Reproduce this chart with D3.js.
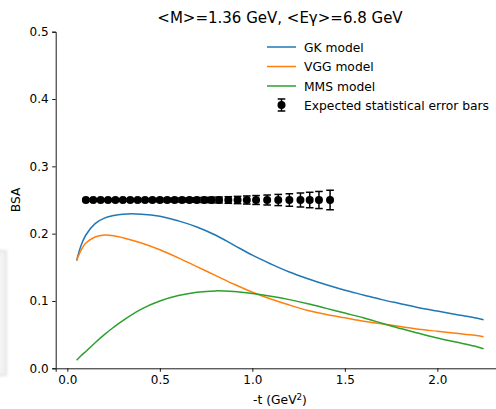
<!DOCTYPE html>
<html>
<head>
<meta charset="utf-8">
<script src="https://cdn.jsdelivr.net/npm/d3@7"></script>
<style>
  html, body { margin: 0; padding: 0; background: #fff; }
  svg { display: block; font-family: "DejaVu Sans", sans-serif; }
</style>
</head>
<body>
<svg id="chart" width="496" height="409"></svg>
<script>
// -t grid for the model curves (GeV^2)
const tGrid = [0.05, 0.075, 0.10, 0.15, 0.20, 0.25, 0.30, 0.40, 0.50, 0.60, 0.70, 0.80, 0.90, 1.00,
               1.10, 1.20, 1.30, 1.40, 1.50, 1.60, 1.70, 1.80, 1.90, 2.00, 2.10, 2.20, 2.25];
const gkModel  = [0.160, 0.183, 0.198, 0.215, 0.223, 0.227, 0.229, 0.229, 0.226, 0.219, 0.210, 0.198, 0.183, 0.168,
                  0.155, 0.143, 0.133, 0.124, 0.116, 0.109, 0.102, 0.096, 0.090, 0.085, 0.080, 0.075, 0.072];
const vggModel = [0.160, 0.176, 0.186, 0.195, 0.198, 0.197, 0.194, 0.186, 0.176, 0.164, 0.151, 0.138, 0.125, 0.113,
                  0.103, 0.094, 0.086, 0.080, 0.075, 0.070, 0.066, 0.062, 0.058, 0.055, 0.052, 0.049, 0.047];
const mmsModel = [0.012, 0.019, 0.025, 0.038, 0.050, 0.061, 0.071, 0.088, 0.100, 0.108, 0.113, 0.115, 0.114, 0.111,
                  0.107, 0.102, 0.096, 0.089, 0.082, 0.075, 0.067, 0.059, 0.052, 0.045, 0.039, 0.033, 0.029];

// Projected measurement points with expected statistical errors
const tPoints = [0.10, 0.14, 0.18, 0.22, 0.26, 0.30, 0.34, 0.38, 0.42, 0.46, 0.50, 0.54, 0.58, 0.62, 0.66,
                 0.70, 0.74, 0.78, 0.82, 0.87, 0.92, 0.97, 1.02, 1.08, 1.14, 1.20, 1.26, 1.31, 1.36, 1.42];
const bsaPoints = [0.25, 0.25, 0.25, 0.25, 0.25, 0.25, 0.25, 0.25, 0.25, 0.25, 0.25, 0.25, 0.25, 0.25, 0.25,
                   0.25, 0.25, 0.25, 0.25, 0.25, 0.25, 0.25, 0.25, 0.25, 0.25, 0.25, 0.25, 0.25, 0.25, 0.25];
const bsaErrors = [0.0015, 0.0015, 0.0016, 0.0016, 0.0017, 0.0018, 0.0019, 0.0020, 0.0021, 0.0022, 0.0024, 0.0026,
                   0.0028, 0.0030, 0.0032, 0.0035, 0.0038, 0.0041, 0.0044, 0.0049, 0.0054, 0.0060, 0.0066, 0.0074,
                   0.0083, 0.0093, 0.0104, 0.0115, 0.0127, 0.0145];

const xTicks = [0.0, 0.5, 1.0, 1.5, 2.0];
const yTicks = [0.0, 0.1, 0.2, 0.3, 0.4, 0.5];
const seriesNames = ["GK model", "VGG model", "MMS model"];
const seriesColors = ["#1f77b4", "#ff7f0e", "#2ca02c"];
const errorLabel = "Expected statistical error bars";
const titleText = "<M>=1.36 GeV, <Eγ>=6.8 GeV";

const svg = d3.select("#chart");

// faint grey panel along the left edge
const defs = svg.append("defs");
defs.append("filter").attr("id", "soft")
  .attr("x", "-50%").attr("y", "-10%").attr("width", "200%").attr("height", "120%")
  .append("feGaussianBlur").attr("stdDeviation", 1.4);
svg.append("rect")
  .attr("x", -6).attr("y", 250).attr("width", 13).attr("height", 126)
  .attr("fill", "#e4e4e4").attr("filter", "url(#soft)");
svg.append("rect")
  .attr("x", -6).attr("y", 252).attr("width", 11).attr("height", 122)
  .attr("fill", "#f3f3f3").attr("filter", "url(#soft)");

const plotLeft = 55.7, plotBottom = 368.3, plotTop = 31.7;
const x = d3.scaleLinear().domain([-0.063, 2.36]).range([plotLeft, plotLeft + 2.423 * 185]);
const y = d3.scaleLinear().domain([0, 0.5]).range([plotBottom, plotTop]);

const g = svg.append("g");

// axes (left and bottom spines only)
const xAxis = d3.axisBottom(x).tickValues(xTicks).tickFormat(d3.format(".1f")).tickSizeOuter(0).tickSize(3.5).tickPadding(3.5);
const yAxis = d3.axisLeft(y).tickValues(yTicks).tickFormat(d3.format(".1f")).tickSizeOuter(0).tickSize(3.5).tickPadding(3.5);

const gx = g.append("g").attr("transform", `translate(0,${plotBottom})`).call(xAxis);
const gy = g.append("g").attr("transform", `translate(${plotLeft},0)`).call(yAxis);
[gx, gy].forEach(a => {
  a.selectAll("path.domain").attr("stroke", "#000").attr("stroke-width", 0.9);
  a.selectAll(".tick line").attr("stroke", "#000").attr("stroke-width", 0.9);
  a.selectAll(".tick text").attr("fill", "#000").style("font-size", "12px").style("font-family", "DejaVu Sans");
});

// model curves
const models = [gkModel, vggModel, mmsModel];
const line = d3.line().x(d => x(d[0])).y(d => y(d[1])).curve(d3.curveCatmullRom.alpha(0.5));
models.forEach((vals, i) => {
  g.append("path")
    .datum(tGrid.map((t, k) => [t, vals[k]]))
    .attr("fill", "none")
    .attr("stroke", seriesColors[i])
    .attr("stroke-width", 1.5)
    .attr("d", line);
});

// error bars with markers
const pts = tPoints.map((t, k) => ({ t, v: bsaPoints[k], e: bsaErrors[k] }));
const eg = g.append("g");
const cap = 3.8;
pts.forEach(p => {
  const cx = x(p.t), y0 = y(p.v - p.e), y1 = y(p.v + p.e);
  eg.append("line").attr("x1", cx).attr("x2", cx).attr("y1", y0).attr("y2", y1)
    .attr("stroke", "#000").attr("stroke-width", 1.5);
  [y0, y1].forEach(yy => eg.append("line").attr("x1", cx - cap).attr("x2", cx + cap)
    .attr("y1", yy).attr("y2", yy).attr("stroke", "#000").attr("stroke-width", 1.5));
});
pts.forEach(p => {
  eg.append("circle").attr("cx", x(p.t)).attr("cy", y(p.v)).attr("r", 4).attr("fill", "#000");
});

// title and axis labels
svg.append("text").attr("x", 280).attr("y", 22.5).attr("text-anchor", "middle")
  .style("font-size", "15px").attr("fill", "#000").text(titleText);

const xl = svg.append("text").attr("x", 280).attr("y", 404).attr("text-anchor", "middle")
  .style("font-size", "12.3px").attr("fill", "#000");
xl.append("tspan").text("-t (GeV");
xl.append("tspan").attr("dy", -4.5).style("font-size", "8.7px").text("2");
xl.append("tspan").attr("dy", 4.5).text(")");

svg.append("text").attr("transform", `translate(20,${(plotTop + plotBottom) / 2}) rotate(-90)`)
  .attr("text-anchor", "middle").style("font-size", "12.3px").attr("fill", "#000").text("BSA");

// legend
const lg = svg.append("g").attr("transform", "translate(267,0)");
const rows = [47, 66.5, 86, 105];
const legendFont = "12.3px";
seriesNames.forEach((name, i) => {
  lg.append("line").attr("x1", 0).attr("x2", 29).attr("y1", rows[i]).attr("y2", rows[i])
    .attr("stroke", seriesColors[i]).attr("stroke-width", 1.5);
  lg.append("text").attr("x", 37).attr("y", rows[i] + 4.5).style("font-size", legendFont).attr("fill", "#000").text(name);
});
const ly = rows[3];
lg.append("line").attr("x1", 14.5).attr("x2", 14.5).attr("y1", ly - 6).attr("y2", ly + 6).attr("stroke", "#000").attr("stroke-width", 1.5);
[ly - 6, ly + 6].forEach(yy => lg.append("line").attr("x1", 14.5 - cap).attr("x2", 14.5 + cap)
  .attr("y1", yy).attr("y2", yy).attr("stroke", "#000").attr("stroke-width", 1.5));
lg.append("circle").attr("cx", 14.5).attr("cy", ly).attr("r", 4).attr("fill", "#000");
lg.append("text").attr("x", 37).attr("y", ly + 4.5).style("font-size", legendFont).attr("fill", "#000").text(errorLabel);
</script>
</body>
</html>
